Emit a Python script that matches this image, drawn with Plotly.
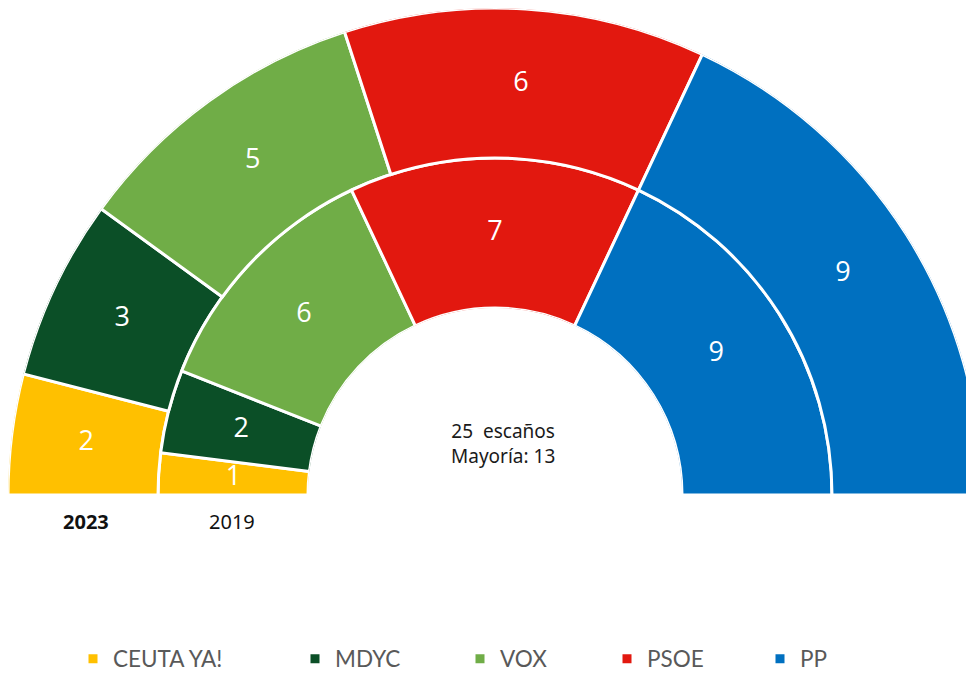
import plotly.graph_objects as go

# ---- data ----
parties = ["CEUTA YA!", "MDYC", "VOX", "PSOE", "PP"]
colors = ["#FFC000", "#0B4F27", "#70AD47", "#E2180F", "#0070C0"]
seats_2019 = [1, 2, 6, 7, 9]
seats_2023 = [2, 3, 5, 6, 9]
year_labels = ["2023", "2019"]
total_seats = 25
majority = 13

W, H = 974, 673
OFF = 8  # page body margin in the browser
DEG = 180 / total_seats  # degrees per seat


def px(xs):
    return (xs - OFF) / W


def py(ys):
    return (H - (ys - OFF)) / H


def centers(seats):
    cum, out = 0, []
    for s in seats:
        out.append((cum + s / 2) * DEG)
        cum += s
    return out


c19 = centers(seats_2019)
c23 = centers(seats_2023)

legend_ids = ["legend", "legend2", "legend3", "legend4", "legend5"]
legend_text_px = [113, 335, 500, 647, 800]

fig = go.Figure()
for i, p in enumerate(parties):
    fig.add_trace(go.Barpolar(
        r=[1, 1],
        base=[0, 1],
        theta=[c19[i], c23[i]],
        width=[seats_2019[i] * DEG, seats_2023[i] * DEG],
        marker=dict(color=colors[i], line=dict(color="white", width=3)),
        name=p,
        legend=legend_ids[i],
        hoverinfo="skip",
    ))

fig.add_trace(go.Scatterpolar(
    r=[0.5] * len(parties) + [1.5] * len(parties),
    theta=c19 + c23,
    text=[str(v) for v in seats_2019 + seats_2023],
    mode="text",
    textfont=dict(color="white", size=27, family="Open Sans"),
    showlegend=False,
    hoverinfo="skip",
))

layout_legends = {}
for i, lid in enumerate(legend_ids):
    layout_legends[lid] = dict(
        x=(legend_text_px[i] - 48) / W,
        y=py(659),
        xanchor="left",
        yanchor="middle",
        orientation="h",
        bgcolor="rgba(0,0,0,0)",
        font=dict(family="Lato", size=22.5, color="#595959"),
        itemclick=False,
    )

fig.update_layout(
    width=W, height=H,
    margin=dict(l=0, r=0, t=0, b=0, autoexpand=False),
    paper_bgcolor="white",
    plot_bgcolor="white",
    showlegend=True,
    polar=dict(
        domain=dict(x=[0.0, 1.0], y=[py(495), 1.0]),
        sector=[0, 180],
        hole=0.384,
        bgcolor="white",
        radialaxis=dict(range=[0, 2], visible=False, showgrid=False,
                        showline=False, showticklabels=False, ticks=""),
        angularaxis=dict(rotation=180, direction="clockwise", visible=False,
                         showgrid=False, showline=False, showticklabels=False,
                         ticks=""),
    ),
    annotations=[
        dict(text=f"{total_seats}  escaños<br>Mayoría: {majority}",
             x=px(503), y=py(444), xref="paper", yref="paper",
             xanchor="center", yanchor="middle",
             showarrow=False, font=dict(family="Noto Sans", size=19, color="#1a1a1a"),
             align="center"),
        dict(text=f"<b>{year_labels[0]}</b>", x=px(86), y=py(521),
             xref="paper", yref="paper", xanchor="center", yanchor="middle",
             showarrow=False,
             font=dict(family="Noto Sans", size=20, color="#111111")),
        dict(text=year_labels[1], x=px(232), y=py(521),
             xref="paper", yref="paper", xanchor="center", yanchor="middle",
             showarrow=False,
             font=dict(family="Noto Sans", size=20, color="#111111")),
    ],
    **layout_legends,
)

fig.write_html("out.html")
